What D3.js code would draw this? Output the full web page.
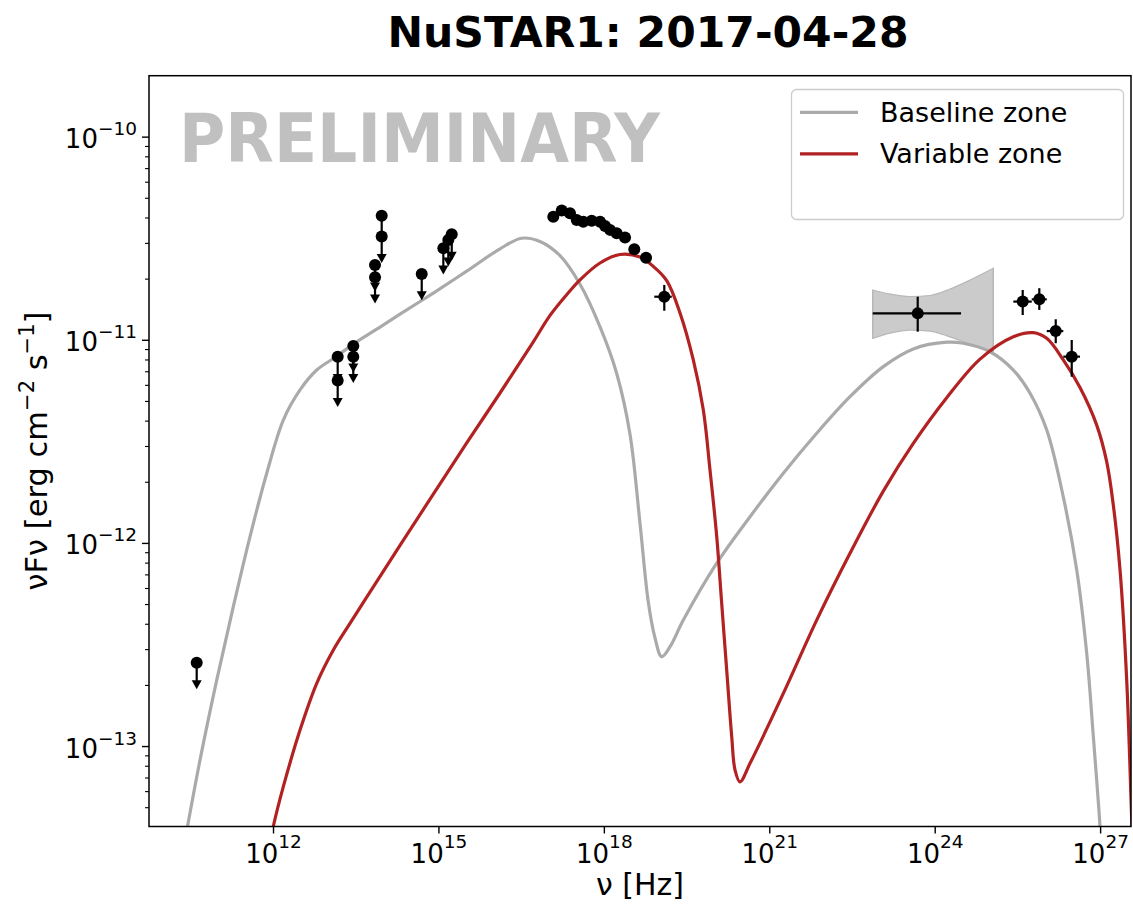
<!DOCTYPE html>
<html>
<head>
<meta charset="utf-8">
<script src="https://cdn.jsdelivr.net/npm/d3@7"></script>
<style>
  body { margin: 0; background: #ffffff; }
  svg text { font-family: "DejaVu Sans", sans-serif; }
</style>
</head>
<body>
<svg id="chart" width="1133" height="905"></svg>
<script>
// ---- model curves: log10(nu / Hz) and log10(nuFnu / erg cm^-2 s^-1) ----
const baselineLogNu = [10.40, 10.676, 10.979, 11.280, 11.583, 11.886, 12.187, 12.490, 12.793, 13.094,
  13.518, 13.881, 14.303, 14.907, 15.513, 16.117, 16.510, 16.842, 17.205, 17.568, 17.931, 18.233,
  18.474, 18.656, 18.806, 18.928, 19.049, 19.200, 19.441, 20.047, 20.651, 21.255, 21.860, 22.464,
  23.068, 23.612, 24.218, 24.519, 25.003, 25.426, 25.729, 26.032, 26.332, 26.576, 26.757, 26.877,
  26.998, 27.025];
const baselineLogFlux = [-13.47, -13.069, -12.675, -12.314, -11.969, -11.657, -11.395, -11.247, -11.149, -11.092,
  -11.010, -10.948, -10.874, -10.770, -10.662, -10.552, -10.500, -10.516, -10.586, -10.727, -10.937, -11.166,
  -11.465, -11.905, -12.291, -12.468, -12.560, -12.511, -12.380, -12.100, -11.871, -11.657, -11.460, -11.280,
  -11.132, -11.045, -11.012, -11.017, -11.059, -11.149, -11.263, -11.444, -11.773, -12.133, -12.544, -12.954,
  -13.396, -13.56];

const variableLogNu = [11.96, 12.005, 12.187, 12.490, 12.793, 13.094, 13.396, 14.000, 14.303, 14.907,
  15.513, 16.117, 16.721, 17.024, 17.326, 17.568, 17.931, 18.293, 18.656, 18.897, 19.140, 19.381,
  19.622, 19.804, 19.925, 20.047, 20.137, 20.228, 20.319, 20.379, 20.469, 20.651, 21.255, 21.860,
  22.464, 23.068, 23.612, 24.218, 24.822, 25.426, 25.788, 26.032, 26.332, 26.635, 26.938, 27.119,
  27.239, 27.361, 27.482, 27.573, 27.60];
const variableLogFlux = [-13.46, -13.396, -13.200, -12.921, -12.691, -12.527, -12.396, -12.140, -12.012, -11.760,
  -11.508, -11.262, -11.010, -10.880, -10.778, -10.705, -10.622, -10.580, -10.593, -10.639, -10.709, -10.868,
  -11.099, -11.346, -11.641, -11.969, -12.297, -12.626, -12.954, -13.118, -13.176, -13.085, -12.741, -12.380,
  -12.051, -11.745, -11.510, -11.285, -11.095, -10.985, -10.965, -10.993, -11.099, -11.235, -11.420, -11.600,
  -11.813, -12.133, -12.675, -13.364, -13.56];

// ---- soft X-ray spectrum points ----
const xrayLogNu = [17.083, 17.236, 17.386, 17.508, 17.627, 17.780, 17.931, 18.021, 18.112, 18.233, 18.384, 18.552, 18.765];
const xrayLogFlux = [-10.394, -10.364, -10.377, -10.410, -10.419, -10.414, -10.419, -10.440, -10.459, -10.476, -10.497, -10.554, -10.596];

// ---- points with error bars (hard X-ray, gamma-ray, VHE) ----
const errLogNu     = [19.096, 23.692, 25.596, 25.897, 26.195, 26.485];
const errLogNuLo   = [18.915, 22.876, 25.426, 25.760, 26.032, 26.332];
const errLogNuHi   = [19.231, 24.478, 25.760, 26.032, 26.332, 26.635];
const errLogFlux   = [-10.788, -10.870, -10.812, -10.801, -10.957, -11.083];
const errLogFluxLo = [-10.857, -10.960, -10.878, -10.853, -11.017, -11.182];
const errLogFluxHi = [-10.730, -10.788, -10.755, -10.746, -10.899, -11.001];

// ---- upper limits (radio / IR / optical) ----
const ulLogNu   = [10.616, 13.173, 13.173, 13.456, 13.456, 13.850, 13.850, 13.971, 13.971, 14.697, 15.089, 15.179, 15.241];
const ulLogFlux = [-12.590, -11.083, -11.201, -11.031, -11.083, -10.632, -10.692, -10.390, -10.492, -10.676, -10.549, -10.509, -10.481];
const ulFraction = 0.75;

// ---- gamma-ray butterfly ----
const bowLogNu    = [22.876, 23.190, 23.553, 23.915, 24.278, 24.641, 25.063];
const bowLogUpper = [-10.755, -10.775, -10.787, -10.782, -10.750, -10.706, -10.648];
const bowLogLower = [-10.993, -10.967, -10.952, -10.957, -10.986, -11.021, -11.059];

// ---- axes ----
const xTickExps = [12, 15, 18, 21, 24, 27];
const yTickExps = [-13, -12, -11, -10];
const xDomainExp = [9.751, 27.56];
const yDomainExp = [-13.396, -9.70];

const titleText = "NuSTAR1: 2017-04-28";
const legendLabels = ["Baseline zone", "Variable zone"];
const baselineColor = "#aaaaaa";
const variableColor = "#b22222";

const P = v => Math.pow(10, v);
const svg = d3.select("#chart");
const plotL = 149, plotR = 1131, plotT = 75.7, plotB = 826.5;

const x = d3.scaleLog().domain(xDomainExp.map(P)).range([plotL, plotR]);
const y = d3.scaleLog().domain(yDomainExp.map(P)).range([plotB, plotT]);

svg.append("defs").append("clipPath").attr("id", "plotclip")
  .append("rect").attr("x", plotL).attr("y", plotT).attr("width", plotR - plotL).attr("height", plotB - plotT);

const plot = svg.append("g").attr("clip-path", "url(#plotclip)");

// watermark
svg.append("text")
  .attr("x", 179).attr("y", 162)
  .attr("font-size", 68).attr("font-weight", "bold")
  .attr("fill", "#c0c0c0")
  .attr("textLength", 481).attr("lengthAdjust", "spacingAndGlyphs")
  .text("PRELIMINARY");

// butterfly
const bow = bowLogNu.map((v, i) => ({ nu: P(v), hi: P(bowLogUpper[i]), lo: P(bowLogLower[i]) }));
plot.append("path")
  .datum(bow)
  .attr("d", d3.area().x(d => x(d.nu)).y0(d => y(d.lo)).y1(d => y(d.hi)).curve(d3.curveMonotoneX))
  .attr("fill", "#cbcbcb").attr("stroke", "#b8b8b8").attr("stroke-width", 1.2);
[bow[0], bow[bow.length - 1]].forEach(b => {
  plot.append("line")
    .attr("x1", x(b.nu)).attr("x2", x(b.nu))
    .attr("y1", y(b.lo)).attr("y2", y(b.hi))
    .attr("stroke", "#b8b8b8").attr("stroke-width", 1.2);
});

// model curves
const line = d3.line().x(d => x(d[0])).y(d => y(d[1])).curve(d3.curveCatmullRom.alpha(0.5));
plot.append("path")
  .datum(baselineLogNu.map((v, i) => [P(v), P(baselineLogFlux[i])]))
  .attr("d", line).attr("fill", "none")
  .attr("stroke", baselineColor).attr("stroke-width", 3.2).attr("stroke-linejoin", "round");
plot.append("path")
  .datum(variableLogNu.map((v, i) => [P(v), P(variableLogFlux[i])]))
  .attr("d", line).attr("fill", "none")
  .attr("stroke", variableColor).attr("stroke-width", 3.2).attr("stroke-linejoin", "round");

// upper limits
const ul = ulLogNu.map((v, i) => ({ nu: P(v), f: P(ulLogFlux[i]) }));
const ulG = plot.append("g");
ul.forEach(d => {
  const cx = x(d.nu), cy = y(d.f), ey = y(d.f * ulFraction);
  ulG.append("line").attr("x1", cx).attr("x2", cx).attr("y1", cy).attr("y2", ey - 4)
    .attr("stroke", "#000").attr("stroke-width", 2.2);
  ulG.append("path")
    .attr("d", `M${cx - 5},${ey - 8} L${cx + 5},${ey - 8} L${cx},${ey + 1} Z`)
    .attr("fill", "#000");
  ulG.append("circle").attr("cx", cx).attr("cy", cy).attr("r", 6).attr("fill", "#000");
});

// error-bar points
const errG = plot.append("g");
errLogNu.forEach((v, i) => {
  const cx = x(P(v)), cy = y(P(errLogFlux[i]));
  errG.append("line").attr("x1", x(P(errLogNuLo[i]))).attr("x2", x(P(errLogNuHi[i])))
    .attr("y1", cy).attr("y2", cy).attr("stroke", "#000").attr("stroke-width", 2.2);
  errG.append("line").attr("x1", cx).attr("x2", cx)
    .attr("y1", y(P(errLogFluxLo[i]))).attr("y2", y(P(errLogFluxHi[i])))
    .attr("stroke", "#000").attr("stroke-width", 2.2);
  errG.append("circle").attr("cx", cx).attr("cy", cy).attr("r", 6).attr("fill", "#000");
});

// X-ray spectrum
plot.append("g").selectAll("circle")
  .data(xrayLogNu.map((v, i) => [P(v), P(xrayLogFlux[i])]))
  .join("circle")
  .attr("cx", d => x(d[0])).attr("cy", d => y(d[1])).attr("r", 6).attr("fill", "#000");

// ---- axes ----
const xAxis = svg.append("g").attr("transform", `translate(0,${plotB})`)
  .call(d3.axisBottom(x).tickValues(xTickExps.map(P)).tickSize(7).tickSizeOuter(0).tickFormat(() => ""));
xAxis.select(".domain").remove();
xAxis.selectAll(".tick line").attr("stroke-width", 1.4);
xAxis.selectAll(".tick").each(function (d, i) {
  const t = d3.select(this).append("text")
    .attr("y", 36).attr("fill", "#000").attr("text-anchor", "middle").attr("font-size", 26);
  t.append("tspan").text("10");
  t.append("tspan").attr("font-size", 18.5).attr("dy", -15).text(String(xTickExps[i]));
});

const yMinor = [];
for (let e = -14; e <= -10; e++) for (let m = 2; m <= 9; m++) {
  const v = m * Math.pow(10, e);
  if (v > y.domain()[0] && v < y.domain()[1]) yMinor.push(v);
}
const yAxisMinor = svg.append("g").attr("transform", `translate(${plotL},0)`)
  .call(d3.axisLeft(y).tickValues(yMinor).tickSize(4).tickSizeOuter(0).tickFormat(() => ""));
yAxisMinor.select(".domain").remove();
yAxisMinor.selectAll(".tick line").attr("stroke-width", 1.1);

const yAxis = svg.append("g").attr("transform", `translate(${plotL},0)`)
  .call(d3.axisLeft(y).tickValues(yTickExps.map(P)).tickSize(7).tickSizeOuter(0).tickFormat(() => ""));
yAxis.select(".domain").remove();
yAxis.selectAll(".tick line").attr("stroke-width", 1.4);
yAxis.selectAll(".tick").each(function (d, i) {
  const t = d3.select(this).append("text")
    .attr("x", -12).attr("y", 11).attr("fill", "#000").attr("text-anchor", "end").attr("font-size", 26);
  t.append("tspan").text("10");
  t.append("tspan").attr("font-size", 18.5).attr("dy", -13).text("\u2212" + String(Math.abs(yTickExps[i])));
});

// frame
svg.append("rect").attr("x", plotL).attr("y", plotT).attr("width", plotR - plotL).attr("height", plotB - plotT)
  .attr("fill", "none").attr("stroke", "#000").attr("stroke-width", 1.5);

// axis labels
svg.append("text").attr("x", 640).attr("y", 895).attr("text-anchor", "middle")
  .attr("font-size", 30).attr("fill", "#000").text("\u03bd [Hz]");

const yl = svg.append("text").attr("transform", "translate(47,451) rotate(-90)")
  .attr("text-anchor", "middle").attr("font-size", 30.5).attr("fill", "#000");
yl.append("tspan").text("\u03bdF\u03bd [erg cm");
yl.append("tspan").attr("font-size", 21).attr("dy", -13).text("\u22122");
yl.append("tspan").attr("dy", 13).text(" s");
yl.append("tspan").attr("font-size", 21).attr("dy", -13).text("\u22121");
yl.append("tspan").attr("dy", 13).text("]");

// title
svg.append("text").attr("x", 648).attr("y", 47).attr("text-anchor", "middle")
  .attr("font-size", 42.5).attr("font-weight", "bold").attr("fill", "#000").text(titleText);

// legend
const lg = svg.append("g");
lg.append("rect").attr("x", 791.5).attr("y", 89.5).attr("width", 332).attr("height", 130).attr("rx", 5)
  .attr("fill", "#fff").attr("fill-opacity", 0.8).attr("stroke", "#cccccc").attr("stroke-width", 1.3);
[baselineColor, variableColor].forEach((c, i) => {
  const ly = 112.3 + i * 41.5;
  lg.append("line").attr("x1", 800).attr("x2", 858).attr("y1", ly).attr("y2", ly)
    .attr("stroke", c).attr("stroke-width", 3.2);
  lg.append("text").attr("x", 880).attr("y", ly + 9.5).attr("font-size", 27).attr("fill", "#000")
    .text(legendLabels[i]);
});
</script>
</body>
</html>
